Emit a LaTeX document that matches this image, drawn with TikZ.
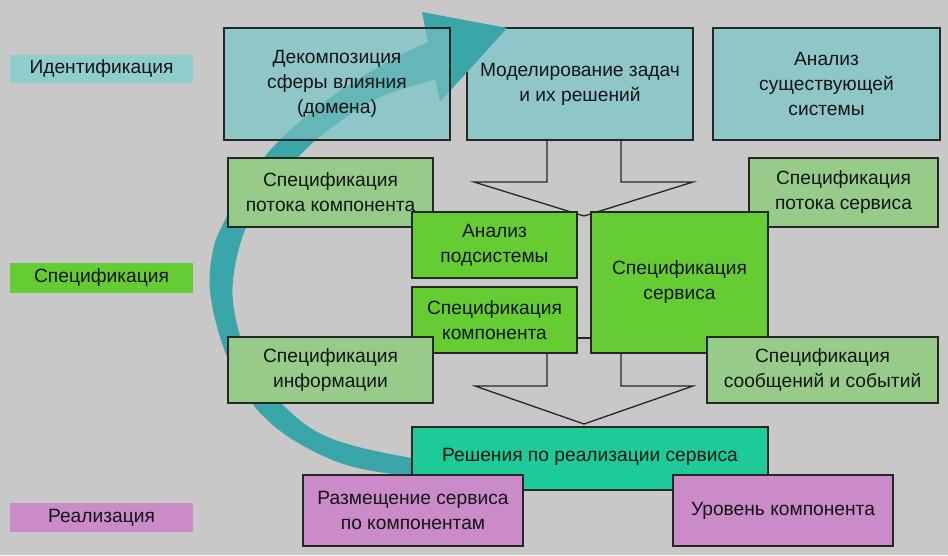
\documentclass[tikz,border=0pt]{standalone}
\usepackage{fontspec}
\setmainfont{Liberation Sans}
\definecolor{bg}{HTML}{C8C8C8}
\definecolor{tealbox}{HTML}{8FC7C8}
\definecolor{teallabel}{HTML}{90CDCD}
\definecolor{lgreen}{HTML}{97CB8A}
\definecolor{bgreen}{HTML}{66CC33}
\definecolor{sgreen}{HTML}{1DCB9A}
\definecolor{violet}{HTML}{CB8BC9}
\definecolor{band}{HTML}{3AA6A9}
\begin{document}
\begin{tikzpicture}[x=1pt,y=-1pt,
  txt/.style={font=\fontsize{19.2}{25}\selectfont, text=black!92, align=center},
  box/.style={txt, draw=black!85, line width=1.6pt, inner sep=0pt},
  topbox/.style={box, fill=tealbox},
  lbox/.style={box, fill=lgreen},
  gbox/.style={box, fill=bgreen},
  sbox/.style={box, fill=sgreen},
  vbox/.style={box, fill=violet},
  lab/.style={txt, inner sep=0pt, minimum width=183pt},
  funnel/.style={draw=black!85, line width=1.3pt, line join=miter},
  conn/.style={draw=black!85, line width=1.3pt},
  bandpath/.style={insert path={plot[smooth, tension=0.6] coordinates {(470,478) (412,476) (350,466) (300,444) (262,415) (238,380) (220,337) (210,290) (213,250) (225,220) (248,180) (275,145) (320,105) (380,66) (428,42)}
  -- (422,12) -- (507,28) -- (440,102) -- (435.5,79.5)
  -- plot[smooth, tension=0.6] coordinates {(435.5,79.5) (380,97) (335,125) (305,150) (270,190) (245,230) (233,280) (236,320) (250,360) (283,405) (330,438) (412,458) (470,462)} -- cycle}}]
\useasboundingbox (0,0) rectangle (948,555);
\fill[bg] (0,0) rectangle (948,555);
% level labels
\node[lab, fill=teallabel, minimum height=28pt] (l1) at (101.5,69) {Идентификация};
\node[lab, fill=bgreen, minimum height=30pt] (l2) at (101.5,278) {Спецификация};
\node[lab, fill=violet, minimum height=29pt] (l3) at (101.5,517.5) {Реализация};
% top row (opaque ones)
\node[topbox, minimum width=226pt, minimum height=112pt] (m) at (580,84) {Моделирование задач\\и их решений};
\node[topbox, minimum width=227pt, minimum height=112pt] (a) at (826.5,84) {Анализ\\существующей\\системы};
% top funnel arrow
\coordinate (t1) at (584,216);
\draw[funnel] ([xshift=-33pt]m.south) -- (547,182) -- (474,182) -- (t1) -- (693,182) -- (621,182) -- ([xshift=41pt]m.south);
% big curved arrow
\fill[band, bandpath];
% decomposition box: arrow shows through it
\fill[tealbox] (224,28) rectangle (450,140);
\begin{scope}
  \clip (224,28) rectangle (450,140);
  \fill[band, opacity=0.5, bandpath];
\end{scope}
\node[box, minimum width=226pt, minimum height=112pt] (d) at (337,84) {Декомпозиция\\сферы влияния\\(домена)};
% specification boxes
\node[lbox, minimum width=205pt, minimum height=69pt] (sfc) at (330.5,192.5) {Спецификация\\потока компонента};
\node[lbox, minimum width=189pt, minimum height=69pt] (sfs) at (843.5,192.5) {Спецификация\\потока сервиса};
\node[gbox, minimum width=165pt, minimum height=66pt] (as) at (494.5,245) {Анализ\\подсистемы};
\node[gbox, minimum width=165pt, minimum height=66pt] (sc) at (494.5,320) {Спецификация\\компонента};
\node[gbox, minimum width=177pt, minimum height=141pt] (ss) at (679.5,282.5) {Спецификация\\сервиса};
\draw[conn] ([yshift=-18pt]sc.east) -- ([yshift=-18pt]sc.east -| ss.west);
\node[lbox, minimum width=205pt, minimum height=66pt] (si) at (330.5,370) {Спецификация\\информации};
\node[lbox, minimum width=231pt, minimum height=66pt] (sme) at (822.5,370) {Спецификация\\сообщений и событий};
% bottom funnel arrow
\coordinate (t2) at (584,424);
\draw[funnel] ([xshift=52.5pt]sc.south) -- (547,386) -- (475,386) -- (t2) -- (693,386) -- (621,386) -- ([xshift=-58.5pt]ss.south);
% realisation
\node[sbox, minimum width=356pt, minimum height=63pt] (r) at (590,458.5) {};
\node[txt] (rt) at (590,457) {Решения по реализации сервиса};
\node[vbox, minimum width=220pt, minimum height=71pt] (p1) at (413,510.5) {Размещение сервиса\\по компонентам};
\node[vbox, minimum width=220pt, minimum height=71pt] (p2) at (783,510.5) {Уровень компонента};
\end{tikzpicture}
\end{document}
